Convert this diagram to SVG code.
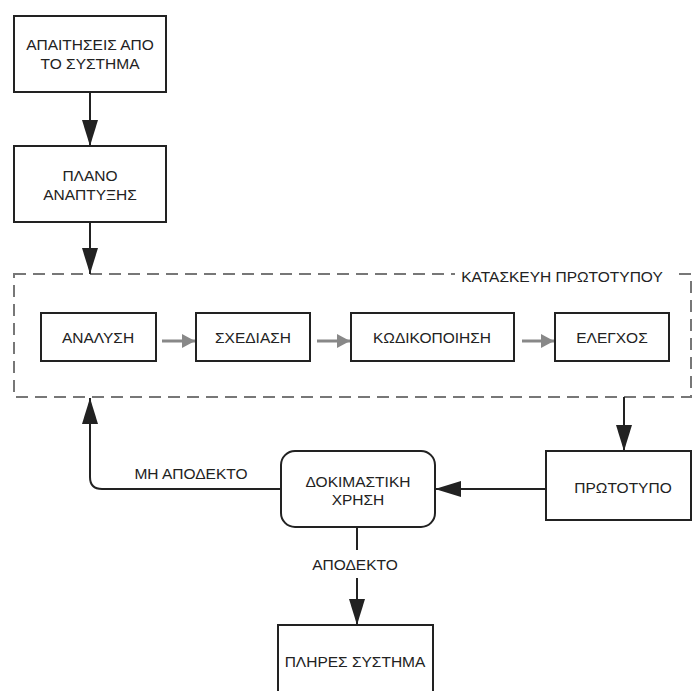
<svg xmlns="http://www.w3.org/2000/svg" width="693" height="691" viewBox="0 0 693 691">
  <style>
    .box { fill: #fff; stroke: #222; stroke-width: 2; }
    .lbl { font-family: "Liberation Sans", Arial, sans-serif; font-size: 15.5px; fill: #222; text-anchor: middle; dominant-baseline: central; }
    .wire { fill: none; stroke: #222; stroke-width: 2; }
    .step { fill: none; stroke: #888; stroke-width: 3; }
    .frame { fill: none; stroke: #777; stroke-width: 2; stroke-dasharray: 12 7; }
  </style>
  <defs>
    <marker id="head" markerUnits="userSpaceOnUse" markerWidth="26" markerHeight="18" refX="26" refY="9" orient="auto">
      <path d="M0,1 L26,9 L0,17 Z" fill="#222"/>
    </marker>
    <marker id="grayhead" markerUnits="userSpaceOnUse" markerWidth="13" markerHeight="16" refX="13" refY="8" orient="auto">
      <path d="M0,1 L13,8 L0,15 Z" fill="#888"/>
    </marker>
  </defs>

  <rect width="693" height="691" fill="#fff"/>

  <!-- prototype construction frame -->
  <g id="frame">
    <rect class="frame" x="14" y="274" width="677" height="123"/>
    <rect x="455" y="266" width="219" height="18" fill="#fff"/>
    <text class="lbl" x="562" y="276">ΚΑΤΑΣΚΕΥΗ ΠΡΩΤΟΤΥΠΟΥ</text>
  </g>

  <!-- connectors -->
  <g id="connectors">
    <line class="wire" x1="90" y1="92" x2="90" y2="146" marker-end="url(#head)"/>
    <line class="wire" x1="90" y1="222" x2="90" y2="274" marker-end="url(#head)"/>
    <line class="step" x1="162" y1="341" x2="195" y2="341" marker-end="url(#grayhead)"/>
    <line class="step" x1="317" y1="341" x2="350" y2="341" marker-end="url(#grayhead)"/>
    <line class="step" x1="522" y1="341" x2="554" y2="341" marker-end="url(#grayhead)"/>
    <line class="wire" x1="624" y1="397" x2="624" y2="451" marker-end="url(#head)"/>
    <line class="wire" x1="546" y1="489" x2="435" y2="489" marker-end="url(#head)"/>
    <path class="wire" d="M281,489 H102 Q90,489 90,477 V398" marker-end="url(#head)"/>
    <text class="lbl" x="191" y="473">ΜΗ ΑΠΟΔΕΚΤΟ</text>
    <line class="wire" x1="357" y1="527" x2="357" y2="550"/>
    <text class="lbl" x="355" y="564">ΑΠΟΔΕΚΤΟ</text>
    <line class="wire" x1="357" y1="578" x2="357" y2="625" marker-end="url(#head)"/>
  </g>

  <!-- nodes -->
  <g id="requirements">
    <rect class="box" x="14" y="16" width="152" height="76"/>
    <text class="lbl" x="90" y="44">ΑΠΑΙΤΗΣΕΙΣ ΑΠΟ</text>
    <text class="lbl" x="90" y="63">ΤΟ ΣΥΣΤΗΜΑ</text>
  </g>
  <g id="plan">
    <rect class="box" x="14" y="146" width="152" height="76"/>
    <text class="lbl" x="90" y="175">ΠΛΑΝΟ</text>
    <text class="lbl" x="90" y="194">ΑΝΑΠΤΥΞΗΣ</text>
  </g>
  <g id="analysis">
    <rect class="box" x="41" y="313" width="115" height="48"/>
    <text class="lbl" x="98" y="337">ΑΝΑΛΥΣΗ</text>
  </g>
  <g id="design">
    <rect class="box" x="196" y="313" width="114" height="48"/>
    <text class="lbl" x="253" y="337">ΣΧΕΔΙΑΣΗ</text>
  </g>
  <g id="coding">
    <rect class="box" x="351" y="313" width="163" height="48"/>
    <text class="lbl" x="432" y="337">ΚΩΔΙΚΟΠΟΙΗΣΗ</text>
  </g>
  <g id="testing">
    <rect class="box" x="555" y="313" width="114" height="48"/>
    <text class="lbl" x="612" y="337">ΕΛΕΓΧΟΣ</text>
  </g>
  <g id="prototype">
    <rect class="box" x="546" y="451" width="145" height="69"/>
    <text class="lbl" x="623" y="487">ΠΡΩΤΟΤΥΠΟ</text>
  </g>
  <g id="trial-use">
    <rect class="box" x="281" y="451" width="154" height="76" rx="14" ry="14"/>
    <text class="lbl" x="358" y="481">ΔΟΚΙΜΑΣΤΙΚΗ</text>
    <text class="lbl" x="358" y="499">ΧΡΗΣΗ</text>
  </g>
  <g id="full-system">
    <rect class="box" x="278" y="625" width="155" height="80"/>
    <text class="lbl" x="355" y="661">ΠΛΗΡΕΣ ΣΥΣΤΗΜΑ</text>
  </g>
</svg>
